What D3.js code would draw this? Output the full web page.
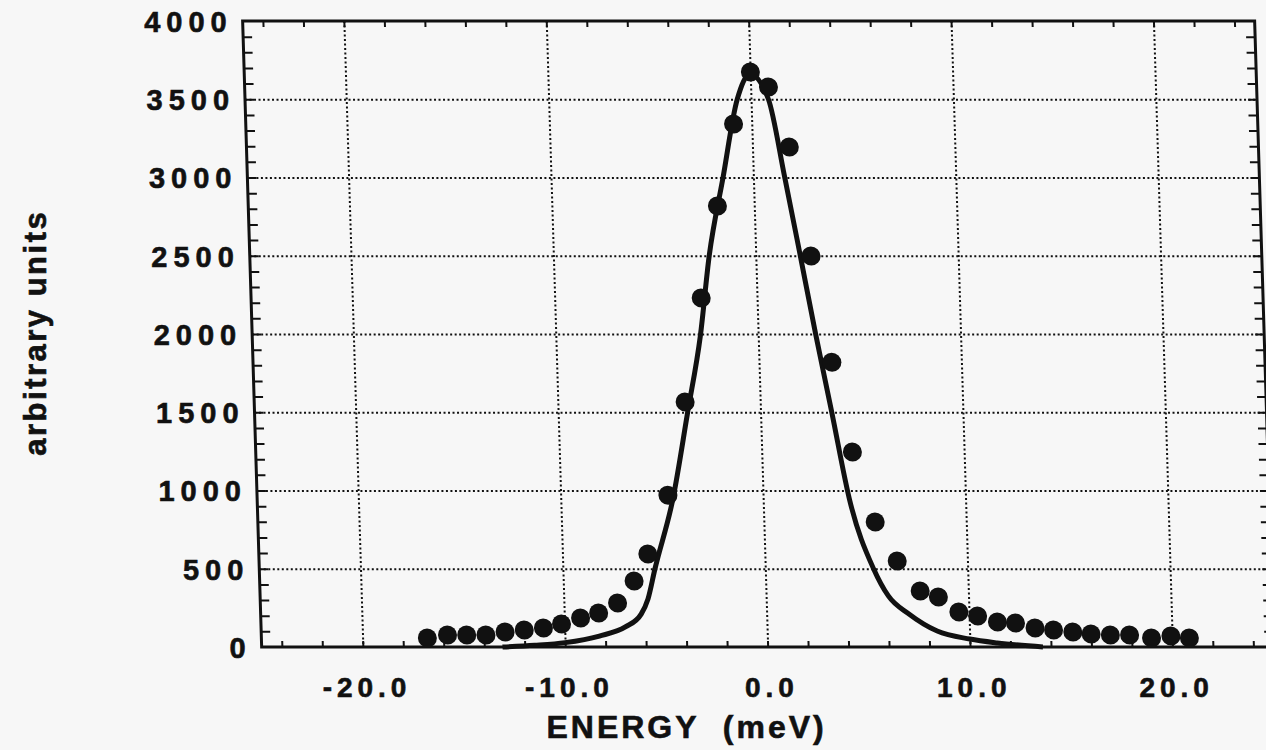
<!DOCTYPE html>
<html>
<head>
<meta charset="utf-8">
<script src="https://cdn.jsdelivr.net/npm/d3@7"></script>
<style>
  body { margin: 0; background: #f7f7f7; }
  svg { display: block; }
  text { font-family: "Liberation Sans", Arial, sans-serif; font-weight: bold; fill: #111; stroke: #111; stroke-width: 0.6; }
</style>
</head>
<body>
<svg width="1266" height="750"></svg>
<script>
// measured points (energy in meV, counts)
const energy = [-16.8, -15.8, -14.85, -13.9, -12.95, -12.0, -11.05, -10.15, -9.2, -8.3,
  -7.35, -6.5, -5.78, -4.7, -3.71, -2.76, -1.82, -0.9, 0.01, 0.88,
  1.82, 2.73, 3.6, 4.48, 5.5, 6.53, 7.62, 8.51, 9.5, 10.42,
  11.39, 12.28, 13.24, 14.15, 15.1, 16.0, 16.95, 17.9, 18.98, 19.94, 20.85];
const counts = [57, 77, 77, 77, 96, 109, 121, 147, 185, 217,
  281, 422, 594, 970, 1565, 2230, 2818, 3342, 3674, 3578,
  3195, 2498, 1820, 1246, 799, 549, 358, 319, 224, 198,
  160, 153, 121, 109, 96, 83, 77, 77, 58, 70, 58];

// solid curve
const fitEnergy = [-13.1, -11.5, -10.0, -8.3, -7.0, -6.2, -5.84, -5.45, -4.46, -3.6,
  -2.86, -2.3, -1.5, -0.68, 0.0, 0.86, 1.55, 2.2, 2.84, 3.52,
  4.26, 5.35, 6.04, 7.03, 8.4, 10.0, 11.35, 13.6];
const fitCounts = [0, 11, 28, 70, 128, 210, 307, 500, 946, 1500,
  1987, 2500, 3000, 3500, 3660, 3500, 3000, 2500, 2000, 1500,
  946, 500, 326, 211, 102, 51, 26, 0];

const xTicks = [-20, -10, 0, 10, 20];
const yTicks = [0, 500, 1000, 1500, 2000, 2500, 3000, 3500, 4000];

const svg = d3.select("svg");
const width = +svg.attr("width");
const height = +svg.attr("height");
const margin = { top: 21, right: 12, bottom: 103, left: 242 };
const innerWidth = width - margin.left - margin.right;
const innerHeight = height - margin.top - margin.bottom;

const xScale = d3.scaleLinear().domain([-25, 25]).range([0, innerWidth]);
const yScale = d3.scaleLinear().domain([0, 4000]).range([innerHeight, 0]);

// the scan is slightly skewed: x drifts right as y grows
const skewDeg = 1.74;
const k = Math.tan((skewDeg * Math.PI) / 180);
const root = svg.append("g").attr("transform", `skewX(${skewDeg})`);
const g = root.append("g")
  .attr("transform", `translate(${margin.left}, ${margin.top})`);

// axis helper for tick-only axes: no domain, no text
const bare = (s) => {
  s.select(".domain").remove();
  s.selectAll("text").remove();
  s.selectAll("line").attr("stroke", "#111").attr("stroke-width", 2);
};

// widen a text by spreading its letters
const spaced = (sel, gap) => {
  sel.each(function () {
    const n = this.textContent.length;
    const w = this.getComputedTextLength();
    this.setAttribute("textLength", w + (n - 1) * gap);
    this.setAttribute("lengthAdjust", "spacing");
  });
};

// dotted grid
g.append("g")
  .attr("class", "grid")
  .call(d3.axisBottom(xScale).tickValues(xTicks).tickSize(innerHeight))
  .call(bare);
g.append("g")
  .attr("class", "grid")
  .call(d3.axisRight(yScale).tickValues(yTicks.slice(1, -1)).tickSize(innerWidth))
  .call(bare);
g.selectAll(".grid line").attr("stroke-dasharray", "2,2.5");

// minor ticks, inward on all sides
const xMinor = d3.range(-24, 25, 2);
const yMinor = d3.range(100, 4000, 100);
g.append("g").attr("transform", `translate(0, ${innerHeight})`)
  .call(d3.axisBottom(xScale).tickValues(xMinor).tickSize(-6))
  .call(bare);
g.append("g")
  .call(d3.axisTop(xScale).tickValues(xMinor).tickSize(-6))
  .call(bare);
g.append("g")
  .call(d3.axisLeft(yScale).tickValues(yMinor).tickSize(-9))
  .call(bare);
g.append("g").attr("transform", `translate(${innerWidth}, 0)`)
  .call(d3.axisRight(yScale).tickValues(yMinor).tickSize(-9))
  .call(bare);

// frame
g.append("rect")
  .attr("width", innerWidth)
  .attr("height", innerHeight)
  .attr("fill", "none")
  .attr("stroke", "#111")
  .attr("stroke-width", 3);

// curve
const line = d3.line()
  .x((d, i) => xScale(fitEnergy[i]))
  .y((d) => yScale(d))
  .curve(d3.curveMonotoneX);
g.append("path")
  .datum(fitCounts)
  .attr("fill", "none")
  .attr("stroke", "#111")
  .attr("stroke-width", 5)
  .attr("stroke-linejoin", "round")
  .attr("d", line);

// points
g.selectAll("circle")
  .data(counts)
  .enter()
  .append("circle")
  .attr("cx", (d, i) => xScale(energy[i]))
  .attr("cy", (d) => yScale(d))
  .attr("r", 9.5)
  .attr("fill", "#111");

// texts sit in an unskewed layer, shifted by hand to follow the skew
const lab = svg.append("g")
  .attr("transform", `translate(${margin.left}, ${margin.top})`);

const yAxisG = lab.append("g")
  .call(d3.axisLeft(yScale).tickValues(yTicks).tickSize(0).tickPadding(16).tickFormat(d3.format("d")));
yAxisG.select(".domain").remove();
yAxisG.selectAll("text")
  .attr("x", (d) => -16 + k * (yScale(d) + margin.top))
  .attr("dy", "0.36em")
  .attr("font-size", 29)
  .attr("font-family", null)
  .call(spaced, 6);

const xAxisG = lab.append("g")
  .attr("transform", `translate(0, ${innerHeight})`)
  .call(d3.axisBottom(xScale).tickValues(xTicks).tickSize(0).tickPadding(30)
    .tickFormat((d) => d3.format(".1f")(d).replace("\u2212", "-")));
xAxisG.select(".domain").remove();
xAxisG.selectAll("text")
  .attr("dx", k * 686)
  .attr("font-size", 28)
  .attr("font-family", null)
  .call(spaced, 5);

lab.append("text")
  .attr("x", 421 + k * 727)
  .attr("y", innerHeight + 91)
  .attr("text-anchor", "middle")
  .attr("font-size", 32)
  .attr("font-family", null)
  .style("white-space", "pre")
  .text("ENERGY  (meV)")
  .call(spaced, 3);

lab.append("text")
  .attr("transform", "rotate(-90)")
  .attr("x", -313)
  .attr("y", -206 + k * 333)
  .attr("text-anchor", "middle")
  .attr("font-size", 31)
  .attr("font-family", null)
  .text("arbitrary units")
  .call(spaced, 2.5);
</script>
</body>
</html>
